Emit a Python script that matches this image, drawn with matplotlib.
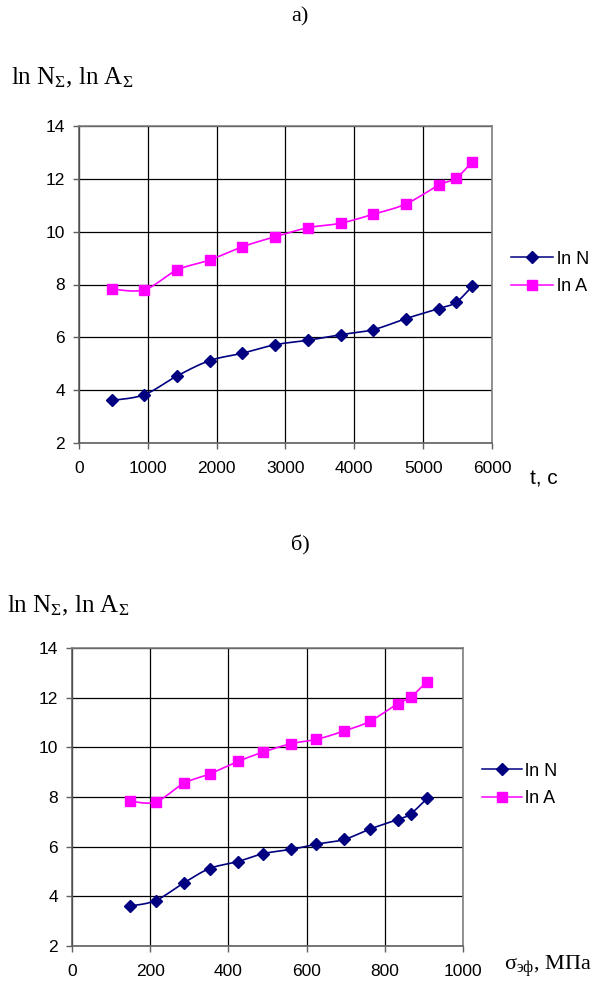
import numpy as np
import matplotlib
matplotlib.use("Agg")
import matplotlib.pyplot as plt
from matplotlib.lines import Line2D

plt.rcParams['font.family'] = ['Liberation Sans', 'DejaVu Sans']
plt.rcParams['mathtext.fontset'] = 'custom'
plt.rcParams['mathtext.rm'] = 'Liberation Serif'
plt.rcParams['mathtext.it'] = 'Liberation Serif:italic'
plt.rcParams['mathtext.bf'] = 'Liberation Serif:bold'

# Data
t_sec = [475, 950, 1425, 1900, 2375, 2850, 3325, 3800, 4275, 4750, 5225, 5475, 5715]
sigma_mpa = [149, 214, 286, 352, 424, 489, 561, 625, 696, 762, 833, 866, 908]
ln_N = [3.61, 3.83, 4.54, 5.12, 5.40, 5.72, 5.89, 6.10, 6.29, 6.71, 7.09, 7.32, 7.94]
ln_A = [7.83, 7.80, 8.55, 8.93, 9.43, 9.81, 10.15, 10.32, 10.66, 11.05, 11.76, 12.02, 12.65]
x_ticks_top = [0, 1000, 2000, 3000, 4000, 5000, 6000]
x_ticks_bot = [0, 200, 400, 600, 800, 1000]
y_ticks = [2, 4, 6, 8, 10, 12, 14]
series_labels = ['ln N', 'ln A']

NAVY = '#000080'
MAGENTA = '#FF00FF'


def smooth(x, y, n=20):
    x = np.asarray(x, float)
    y = np.asarray(y, float)
    px = np.concatenate([[x[0]], x, [x[-1]]])
    py = np.concatenate([[y[0]], y, [y[-1]]])
    xs, ys = [], []
    s = np.linspace(0, 1, n, endpoint=False)
    for i in range(1, len(px) - 2):
        p0, p1, p2, p3 = px[i - 1], px[i], px[i + 1], px[i + 2]
        q0, q1, q2, q3 = py[i - 1], py[i], py[i + 1], py[i + 2]
        c1x, c1y = p1 + (p2 - p0) / 6, q1 + (q2 - q0) / 6
        c2x, c2y = p2 - (p3 - p1) / 6, q2 - (q3 - q1) / 6
        b0 = (1 - s) ** 3
        b1 = 3 * (1 - s) ** 2 * s
        b2 = 3 * (1 - s) * s ** 2
        b3 = s ** 3
        xs.append(b0 * p1 + b1 * c1x + b2 * c2x + b3 * p2)
        ys.append(b0 * q1 + b1 * c1y + b2 * c2y + b3 * q2)
    xs.append([x[-1]])
    ys.append([y[-1]])
    return np.concatenate(xs), np.concatenate(ys)


fig = plt.figure(figsize=(5.95, 9.81), dpi=100)

STYLES = [(NAVY, 'D', 5.8), (MAGENTA, 's', 6.5)]


def draw(ax, xv, xticks, xmax):
    for yv, (col, mk, ms) in zip([ln_N, ln_A], STYLES):
        sx, sy = smooth(xv, yv)
        ax.plot(sx, sy, color=col, lw=1.2, zorder=3)
        ax.plot(xv, yv, linestyle='none', marker=mk, ms=ms, color=col, zorder=4)
    ax.set_xlim(0, xmax)
    ax.set_ylim(2, 14)
    ax.set_xticks(xticks)
    ax.set_yticks(y_ticks)
    ax.grid(True, color='black', lw=0.9)
    ax.set_axisbelow(True)
    for sp in ['top', 'right']:
        ax.spines[sp].set_color('#808080')
        ax.spines[sp].set_linewidth(1.2)
    for sp in ['left', 'bottom']:
        ax.spines[sp].set_color('#606060')
        ax.spines[sp].set_linewidth(1.2)
    ax.tick_params(direction='out', length=4, width=1, color='#606060',
                   labelsize=12.5)
    ax.tick_params(axis='x', pad=9)
    ax.tick_params(axis='y', pad=6)


def handles():
    return [Line2D([], [], color=c, lw=1.1, marker=m, ms=ms) for c, m, ms in STYLES]


# Top chart
ax1 = fig.add_axes([79 / 595, 1 - 443 / 981, 413 / 595, 317 / 981])
draw(ax1, t_sec, x_ticks_top, 6000)
fig.legend(handles(), series_labels, loc='center left',
           bbox_to_anchor=(511 / 595, 1 - 273 / 981), frameon=False,
           fontsize=13, handlelength=2.35, handletextpad=0.2,
           labelspacing=0.6, borderaxespad=0, borderpad=0)

fig.text(300 / 595, 1 - 17 / 981, 'а)', family='Liberation Serif', fontsize=16,
         ha='center', va='center')
fig.text(11 / 595, 1 - 78 / 981, r'ln N$_{\Sigma}$, ln A$_{\Sigma}$',
         family='Liberation Serif', fontsize=18, ha='left', va='center')
fig.text(530 / 595, 1 - 479 / 981, 't, с', fontsize=15, ha='left', va='center')

# Bottom chart
ax2 = fig.add_axes([72 / 595, 1 - 946 / 981, 391 / 595, 298 / 981])
draw(ax2, sigma_mpa, x_ticks_bot, 1000)
fig.legend(handles(), series_labels, loc='center left',
           bbox_to_anchor=(482 / 595, 1 - 785 / 981), frameon=False,
           fontsize=13, handlelength=2.2, handletextpad=0.2,
           labelspacing=0.6, borderaxespad=0, borderpad=0)

fig.text(300 / 595, 1 - 545 / 981, 'б)', family='Liberation Serif', fontsize=16,
         ha='center', va='center')
fig.text(7 / 595, 1 - 606 / 981, r'ln N$_{\Sigma}$, ln A$_{\Sigma}$',
         family='Liberation Serif', fontsize=18, ha='left', va='center')
fig.text(504 / 595, 1 - 966 / 981, r'$\mathrm{\sigma}_{\mathrm{эф}}$, МПа',
         family='Liberation Serif', fontsize=16, ha='left', va='center')

fig.savefig('out.png', dpi=100)
